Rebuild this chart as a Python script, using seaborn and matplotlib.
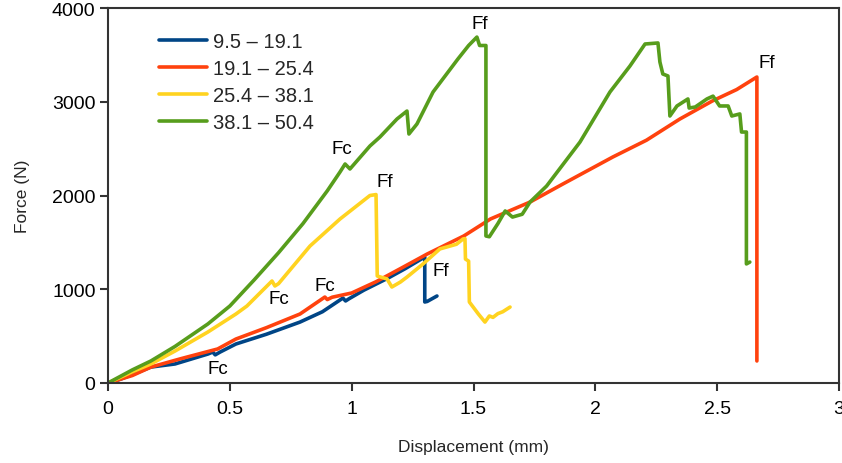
import numpy as np
import pandas as pd
import matplotlib
matplotlib.use("Agg")
import matplotlib.pyplot as plt
import seaborn as sns

# data
blue_x = [0, 0.05, 0.10, 0.176, 0.275, 0.41, 0.43, 0.44, 0.46, 0.525, 0.65, 0.788, 0.88, 0.964, 0.975,
          0.99, 1.05, 1.15, 1.22, 1.30, 1.30, 1.31, 1.35]
blue_y = [0, 40, 90, 170, 203, 309, 330, 300, 330, 416, 520, 650, 760, 906, 875,
          900, 990, 1120, 1220, 1344, 864, 870, 928]

red_x = [0, 0.1, 0.176, 0.3, 0.45, 0.525, 0.65, 0.788, 0.89, 0.90, 0.92, 1.0, 1.1, 1.2, 1.31,
         1.46, 1.57, 1.732, 1.867, 2.072, 2.21, 2.347, 2.48, 2.58, 2.663, 2.663]
red_y = [0, 80, 170, 260, 363, 469, 590, 736, 917, 890, 915, 960, 1080, 1220, 1376,
         1568, 1750, 1930, 2123, 2411, 2590, 2816, 3008, 3130, 3264, 235]

yellow_x = [0, 0.05, 0.1, 0.176, 0.275, 0.41, 0.525, 0.57, 0.673, 0.685, 0.70, 0.829, 0.952,
            1.075, 1.10, 1.105, 1.145, 1.165, 1.2, 1.227, 1.293, 1.362, 1.43, 1.457, 1.465,
            1.467, 1.48, 1.483, 1.52, 1.547, 1.565, 1.58, 1.60, 1.62, 1.65]
yellow_y = [0, 60, 120, 203, 341, 544, 736, 821, 1088, 1035, 1060, 1461, 1749,
            2000, 2010, 1141, 1110, 1024, 1077, 1130, 1270, 1430, 1480, 1536, 1540,
            1322, 1300, 864, 736, 650, 715, 700, 740, 760, 810]

green_x = [0, 0.05, 0.1, 0.176, 0.275, 0.41, 0.5, 0.6, 0.7, 0.8, 0.9, 0.952, 0.973,
           0.993, 1.0, 1.075, 1.116, 1.186, 1.227, 1.235, 1.268, 1.334, 1.436, 1.48, 1.514,
           1.525, 1.551, 1.551, 1.565, 1.6, 1.63, 1.66, 1.70, 1.732, 1.80, 1.937, 2.06, 2.142,
           2.204, 2.257, 2.265, 2.277, 2.298, 2.306, 2.335, 2.38, 2.385, 2.41, 2.458, 2.483,
           2.51, 2.545, 2.56, 2.593, 2.60, 2.62, 2.62, 2.634]
green_y = [0, 70, 140, 235, 390, 630, 821, 1100, 1390, 1700, 2050, 2250, 2336,
           2283, 2304, 2528, 2624, 2816, 2901, 2656, 2763, 3104, 3456, 3600, 3690,
           3600, 3600, 1568, 1560, 1700, 1835, 1770, 1800, 1930, 2101, 2570, 3104, 3381,
           3616, 3627, 3424, 3296, 3275, 2848, 2955, 3030, 2933, 2944, 3030, 3060,
           2955, 2955, 2848, 2870, 2677, 2677, 1270, 1290]

labels = ["9.5 – 19.1", "19.1 – 25.4", "25.4 – 38.1", "38.1 – 50.4"]
colors = ["#004586", "#ff420e", "#ffd320", "#579d1c"]

# annotation labels (text, x, y)
notes = [("Fc", 0.96, 2496), ("Ff", 1.527, 3830), ("Ff", 1.137, 2144), ("Fc", 0.70, 896),
         ("Fc", 0.89, 1035), ("Fc", 0.45, 150), ("Ff", 1.366, 1205), ("Ff", 2.704, 3424)]

frames = []
for lab, xs, ys in zip(labels, [blue_x, red_x, yellow_x, green_x], [blue_y, red_y, yellow_y, green_y]):
    frames.append(pd.DataFrame({"Displacement (mm)": xs, "Force (N)": ys, "series": lab}))
df = pd.concat(frames, ignore_index=True)

sns.set_theme(style="white")
plt.rcParams['font.family'] = ['Liberation Sans', 'DejaVu Sans']

fig = plt.figure(figsize=(8.42, 4.64), dpi=100)
ax = fig.add_axes([108 / 842, 1 - 384 / 464, 731 / 842, 375 / 464])

sns.lineplot(data=df, x="Displacement (mm)", y="Force (N)", hue="series", hue_order=labels,
             palette=colors, sort=False, estimator=None, units="series", linewidth=2.6,
             ax=ax)

for txt, x, y in notes:
    ax.text(x, y, txt, fontsize=13.5, ha="center", va="center", color="black")

ax.set_xlim(0, 3)
ax.set_ylim(0, 4000)
ax.set_xticks([0, 0.5, 1, 1.5, 2, 2.5, 3])
ax.set_xticklabels(["0", "0.5", "1", "1.5", "2", "2.5", "3"])
ax.set_yticks([0, 1000, 2000, 3000, 4000])
ax.tick_params(axis="both", direction="out", length=6, width=1.5, color="#333333",
               labelsize=14, bottom=True, left=True, labelcolor="black", pad=3)
ax.tick_params(axis="x", pad=6)
for sp in ax.spines.values():
    sp.set_color("#333333")
    sp.set_linewidth(1.5)
ax.set_xlabel("Displacement (mm)", fontsize=12.5, labelpad=16)
ax.set_ylabel("Force (N)", fontsize=12.5, labelpad=16)

ax.legend(loc="upper left", bbox_to_anchor=(0.045, 0.985), frameon=False, fontsize=14.5,
          handlelength=2.4, labelspacing=0.4, handletextpad=0.3)

fig.savefig("out.png", dpi=100)
